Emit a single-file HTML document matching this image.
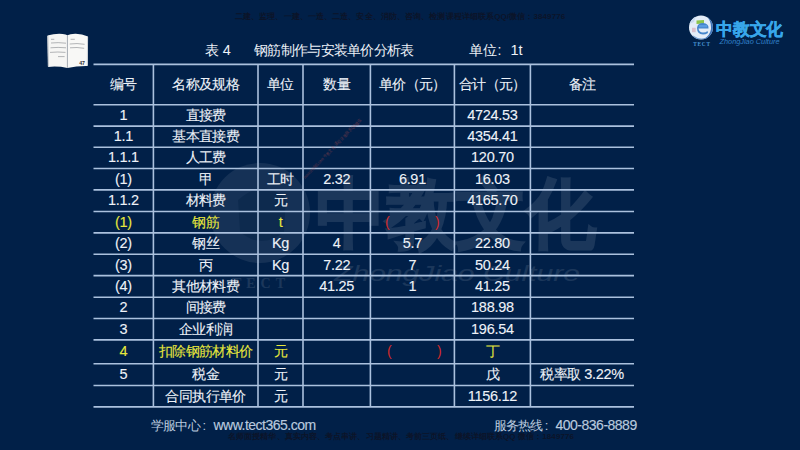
<!DOCTYPE html>
<html><head><meta charset="utf-8"><style>
html,body{margin:0;padding:0}
body{width:800px;height:450px;overflow:hidden;position:relative;background:#012048;font-family:"Liberation Sans",sans-serif}
.t{position:absolute;white-space:nowrap;line-height:20px;height:20px;width:120px;margin-left:-60px;margin-top:-10px;text-align:center;color:#eef2f8;-webkit-text-stroke:0.1px}
.k{font-size:14px;letter-spacing:-0.6px}
.n{font-size:14.5px;letter-spacing:-0.3px}
.y{color:#e8e83c}
.a{position:absolute;white-space:nowrap;line-height:20px}
</style></head><body>

<div style="position:absolute;left:0;top:0;width:800px;height:450px;opacity:0.10">
<svg width="800" height="450">
<circle cx="260" cy="213" r="50" fill="#fff" opacity="0.75"/>
<path d="M238,200 Q262,178 286,198 L284,232 Q262,250 240,232 Z" fill="#000" opacity="0.35"/>
<text x="261" y="288" font-size="14" font-weight="bold" fill="#fff" text-anchor="middle" font-family="Liberation Serif" letter-spacing="5">TECT</text>
<text x="316" y="240" font-size="76" font-weight="bold" fill="#fff" stroke="#fff" stroke-width="2" font-family="Liberation Sans,sans-serif" textLength="280" lengthAdjust="spacingAndGlyphs">中教文化</text>
<text x="334" y="280.5" font-size="21.5" font-style="italic" fill="#fff" font-family="Liberation Sans" textLength="246" lengthAdjust="spacingAndGlyphs">ZhongJiao Culture</text>
</svg></div>
<svg style="position:absolute;left:0;top:0" width="800" height="450"><g stroke="#abc1de" stroke-width="1.6">
<line x1="93.5" y1="64.4" x2="634" y2="64.4"/>
<line x1="93.5" y1="104.8" x2="634" y2="104.8"/>
<line x1="93.5" y1="126.1" x2="634" y2="126.1"/>
<line x1="93.5" y1="147.2" x2="634" y2="147.2"/>
<line x1="93.5" y1="168.5" x2="634" y2="168.5"/>
<line x1="93.5" y1="189.9" x2="634" y2="189.9"/>
<line x1="93.5" y1="211.5" x2="634" y2="211.5"/>
<line x1="93.5" y1="232.9" x2="634" y2="232.9"/>
<line x1="93.5" y1="254.2" x2="634" y2="254.2"/>
<line x1="93.5" y1="275.6" x2="634" y2="275.6"/>
<line x1="93.5" y1="297.2" x2="634" y2="297.2"/>
<line x1="93.5" y1="318.5" x2="634" y2="318.5"/>
<line x1="93.5" y1="339.9" x2="634" y2="339.9"/>
<line x1="93.5" y1="363.7" x2="634" y2="363.7"/>
<line x1="93.5" y1="385.5" x2="634" y2="385.5"/>
<line x1="93.5" y1="406.9" x2="634" y2="406.9"/>
<line x1="153.4" y1="64.4" x2="153.4" y2="406.9"/>
<line x1="258" y1="64.4" x2="258" y2="406.9"/>
<line x1="303" y1="64.4" x2="303" y2="406.9"/>
<line x1="370.4" y1="64.4" x2="370.4" y2="406.9"/>
<line x1="454.4" y1="64.4" x2="454.4" y2="406.9"/>
<line x1="530.4" y1="64.4" x2="530.4" y2="406.9"/>
</g></svg>
<div class="t" style="left:123.45px;top:84.20px"><span class="k">编号</span></div>
<div class="t" style="left:205.70px;top:84.20px"><span class="k">名称及规格</span></div>
<div class="t" style="left:280.50px;top:84.20px"><span class="k">单位</span></div>
<div class="t" style="left:336.70px;top:84.20px"><span class="k">数量</span></div>
<div class="t" style="left:412.40px;top:84.20px"><span class="k">单价（元）</span></div>
<div class="t" style="left:492.40px;top:84.20px"><span class="k">合计（元）</span></div>
<div class="t" style="left:582.20px;top:84.20px"><span class="k">备注</span></div>
<div class="t" style="left:123.45px;top:115.05px"><span class="n">1</span></div>
<div class="t" style="left:205.70px;top:115.05px"><span class="k">直接费</span></div>
<div class="t" style="left:492.40px;top:115.05px"><span class="n">4724.53</span></div>
<div class="t" style="left:123.45px;top:136.25px"><span class="n">1.1</span></div>
<div class="t" style="left:205.70px;top:136.25px"><span class="k">基本直接费</span></div>
<div class="t" style="left:492.40px;top:136.25px"><span class="n">4354.41</span></div>
<div class="t" style="left:123.45px;top:157.45px"><span class="n">1.1.1</span></div>
<div class="t" style="left:205.70px;top:157.45px"><span class="k">人工费</span></div>
<div class="t" style="left:492.40px;top:157.45px"><span class="n">120.70</span></div>
<div class="t" style="left:123.45px;top:178.80px"><span class="n">(1)</span></div>
<div class="t" style="left:205.70px;top:178.80px"><span class="k">甲</span></div>
<div class="t" style="left:280.50px;top:178.80px"><span class="k">工时</span></div>
<div class="t" style="left:336.70px;top:178.80px"><span class="n">2.32</span></div>
<div class="t" style="left:412.40px;top:178.80px"><span class="n">6.91</span></div>
<div class="t" style="left:492.40px;top:178.80px"><span class="n">16.03</span></div>
<div class="t" style="left:123.45px;top:200.30px"><span class="n">1.1.2</span></div>
<div class="t" style="left:205.70px;top:200.30px"><span class="k">材料费</span></div>
<div class="t" style="left:280.50px;top:200.30px"><span class="k">元</span></div>
<div class="t" style="left:492.40px;top:200.30px"><span class="n">4165.70</span></div>
<div class="t y" style="left:123.45px;top:221.80px"><span class="n">(1)</span></div>
<div class="t y" style="left:205.70px;top:221.80px"><span class="k">钢筋</span></div>
<div class="t y" style="left:280.50px;top:221.80px"><span class="n">t</span></div>
<div class="t" style="left:123.45px;top:243.15px"><span class="n">(2)</span></div>
<div class="t" style="left:205.70px;top:243.15px"><span class="k">钢丝</span></div>
<div class="t" style="left:280.50px;top:243.15px"><span class="n">Kg</span></div>
<div class="t" style="left:336.70px;top:243.15px"><span class="n">4</span></div>
<div class="t" style="left:412.40px;top:243.15px"><span class="n">5.7</span></div>
<div class="t" style="left:492.40px;top:243.15px"><span class="n">22.80</span></div>
<div class="t" style="left:123.45px;top:264.50px"><span class="n">(3)</span></div>
<div class="t" style="left:205.70px;top:264.50px"><span class="k">丙</span></div>
<div class="t" style="left:280.50px;top:264.50px"><span class="n">Kg</span></div>
<div class="t" style="left:336.70px;top:264.50px"><span class="n">7.22</span></div>
<div class="t" style="left:412.40px;top:264.50px"><span class="n">7</span></div>
<div class="t" style="left:492.40px;top:264.50px"><span class="n">50.24</span></div>
<div class="t" style="left:123.45px;top:286.00px"><span class="n">(4)</span></div>
<div class="t" style="left:205.70px;top:286.00px"><span class="k">其他材料费</span></div>
<div class="t" style="left:336.70px;top:286.00px"><span class="n">41.25</span></div>
<div class="t" style="left:412.40px;top:286.00px"><span class="n">1</span></div>
<div class="t" style="left:492.40px;top:286.00px"><span class="n">41.25</span></div>
<div class="t" style="left:123.45px;top:307.45px"><span class="n">2</span></div>
<div class="t" style="left:205.70px;top:307.45px"><span class="k">间接费</span></div>
<div class="t" style="left:492.40px;top:307.45px"><span class="n">188.98</span></div>
<div class="t" style="left:123.45px;top:328.80px"><span class="n">3</span></div>
<div class="t" style="left:205.70px;top:328.80px"><span class="k">企业利润</span></div>
<div class="t" style="left:492.40px;top:328.80px"><span class="n">196.54</span></div>
<div class="t y" style="left:123.45px;top:351.40px"><span class="n">4</span></div>
<div class="t y" style="left:205.70px;top:351.40px"><span class="k">扣除钢筋材料价</span></div>
<div class="t y" style="left:280.50px;top:351.40px"><span class="k">元</span></div>
<div class="t y" style="left:492.40px;top:351.40px"><span class="k">丁</span></div>
<div class="t" style="left:123.45px;top:374.20px"><span class="n">5</span></div>
<div class="t" style="left:205.70px;top:374.20px"><span class="k">税金</span></div>
<div class="t" style="left:280.50px;top:374.20px"><span class="k">元</span></div>
<div class="t" style="left:492.40px;top:374.20px"><span class="k">戊</span></div>
<div class="t" style="left:582.20px;top:374.20px"><span class="k">税率取</span><span class="n">&#160;3.22%</span></div>
<div class="t" style="left:205.70px;top:395.80px"><span class="k">合同执行单价</span></div>
<div class="t" style="left:280.50px;top:395.80px"><span class="k">元</span></div>
<div class="t" style="left:492.40px;top:395.80px"><span class="n">1156.12</span></div>
<div class="a" style="left:385px;top:212.20px;font-size:14px;color:#d42a2a">(</div>
<div class="a" style="left:435px;top:212.20px;font-size:14px;color:#d42a2a">)</div>
<div class="a" style="left:387px;top:340.80px;font-size:14px;color:#d42a2a">(</div>
<div class="a" style="left:437px;top:340.80px;font-size:14px;color:#d42a2a">)</div>
<svg style="position:absolute;left:0;top:0" width="800" height="450">
<path d="M47.5,35.6 Q55,33.2 62.7,33.9 Q66,34.3 67.4,35.2 L67.4,67.9 Q58,66 48.2,66.9 Z" fill="#f6f6f4"/>
<path d="M67.4,35.2 Q70,33.6 75.8,33.7 Q82,34 88,36.5 L87.6,66 Q77,65.8 67.4,67.9 Z" fill="#f8f8f6"/>
<path d="M47.8,36 L48.4,66.5" stroke="#c4c8cc" stroke-width="1.2"/>
<path d="M87.6,37 L87.3,65.5" stroke="#d0d4d8" stroke-width="1"/>
<path d="M67.4,35.5 L67.4,67.5" stroke="#a4a8ae" stroke-width="0.7"/>
<g stroke="#6c7076" stroke-width="0.5" fill="none">
<path d="M51,39.3 L54.3,39.3"/><path d="M51,43 Q58,42.2 66,43.2"/><path d="M50.5,47.8 Q58,47 66,47.8"/>
<path d="M50,52.4 Q58,51.6 65.5,52.4"/><path d="M58,56.6 L64.6,56.6"/>
<path d="M70.6,39.3 L74.8,39.3"/><path d="M69.7,44 Q77,43 84.6,44.3"/><path d="M70,47.8 Q77,47 84.2,48.3"/>
</g>
<text x="79.2" y="65" font-size="5.2" font-weight="bold" fill="#2a2a2a" font-family="Liberation Sans">47</text>
</svg>
<svg style="position:absolute;left:0;top:0" width="800" height="450">
<defs><clipPath id="gc"><circle cx="701" cy="27.5" r="12"/></clipPath></defs>
<circle cx="701" cy="27.5" r="12" fill="#e4edf8"/>
<g clip-path="url(#gc)">
<path d="M705,15 Q711.5,20 711,29 Q710,36 703,39.5 L716,41 L716,13 Z" fill="#3f74b8"/>
<path d="M693,35.5 Q700,40.5 708,37 L712,41 L690,41 Z" fill="#4a80c2" opacity="0.7"/>
<path d="M689,24 Q691,18 696,16 L694,22 Z" fill="#c9dcf0"/>
</g>
<path d="M696.5,20.5 L704,20 L704,23.5 L696.5,24 Z" fill="#8dc54c"/>
<path d="M697,28 Q697.5,23 703,23 Q709,23.5 708.5,28.5 L698.5,28.5 Q699,32.5 703,32.5 Q706,32.5 707.5,31 L708,33 Q705.5,34.5 703,34.5 Q697,34 697,28 Z" fill="#4586cc"/>
<rect x="699" y="25" width="8" height="2.3" fill="#5a9be0"/>
<rect x="692" y="27.8" width="3.7" height="4.4" fill="#d9b8c6" opacity="0.85"/>
<text x="702" y="46" font-size="5.2" font-weight="bold" fill="#4a9ad8" text-anchor="middle" font-family="Liberation Serif" letter-spacing="0.8">TECT</text>
<text x="716" y="35" font-size="16.5" font-weight="bold" fill="#38a6ea" stroke="#38a6ea" stroke-width="0.5" font-family="Liberation Sans,sans-serif" textLength="67" lengthAdjust="spacingAndGlyphs">中教文化</text>
<text x="719.5" y="44.3" font-size="6.6" font-style="italic" fill="#3280c8" font-family="Liberation Sans" textLength="60" lengthAdjust="spacingAndGlyphs">ZhongJiao Culture</text>
</svg>
<div class="a" style="left:205px;top:40px;color:#eef2f8"><span class="k" style="font-size:14px;letter-spacing:0">表</span><span class="n">&#160;4</span></div>
<div class="a" style="left:254px;top:40px;color:#eef2f8;font-size:14px;letter-spacing:-0.7px">钢筋制作与安装单价分析表</div>
<div class="a" style="left:469px;top:40px;color:#eef2f8;font-size:14px">单位</div>
<div class="a" style="left:497.5px;top:40px;color:#eef2f8;font-size:14px">:</div>
<div class="a" style="left:510.5px;top:40px;color:#eef2f8;font-size:14.5px">1t</div>
<div class="a" style="left:151px;top:416px;color:#b9c9de;font-size:13px;letter-spacing:-0.8px">学服中心</div>
<div class="a" style="left:202.5px;top:416px;color:#b9c9de;font-size:13px">:</div>
<div class="a" style="left:213.5px;top:415.2px;color:#b9c9de;font-size:14px;letter-spacing:-0.5px;-webkit-text-stroke:0.15px">www.tect365.com</div>
<div class="a" style="left:493.5px;top:416px;color:#b9c9de;font-size:13px;letter-spacing:-0.8px">服务热线</div>
<div class="a" style="left:544.8px;top:416px;color:#b9c9de;font-size:13px">:</div>
<div class="a" style="left:555.5px;top:415.2px;color:#b9c9de;font-size:14px;letter-spacing:-0.5px;-webkit-text-stroke:0.15px">400-836-8889</div>
<div class="a" style="left:235px;top:7px;font-size:8px;letter-spacing:0.1px;color:#0c1428;font-weight:bold">二建、监理、一建、一造、二造、安全、消防、咨询、检测课程详细联系QQ/微信：3849776</div>
<div class="a" style="left:228px;top:427px;font-size:8px;letter-spacing:0.09px;color:#0c1428;font-weight:bold">名师面授精华、真实内容、考点串讲、习题精讲、考前三页纸、继续详细联系QQ 微信：1849776</div>
<svg style="position:absolute;left:0;top:0" width="800" height="450"><text transform="translate(305,179) rotate(-46)" x="0" y="0" font-size="4.5" fill="#b04848" opacity="0.55" font-family="Liberation Sans,sans-serif" textLength="82" lengthAdjust="spacingAndGlyphs">www.tect365.com 中教文化 课程详细联系QQ微信</text></svg>
</body></html>
